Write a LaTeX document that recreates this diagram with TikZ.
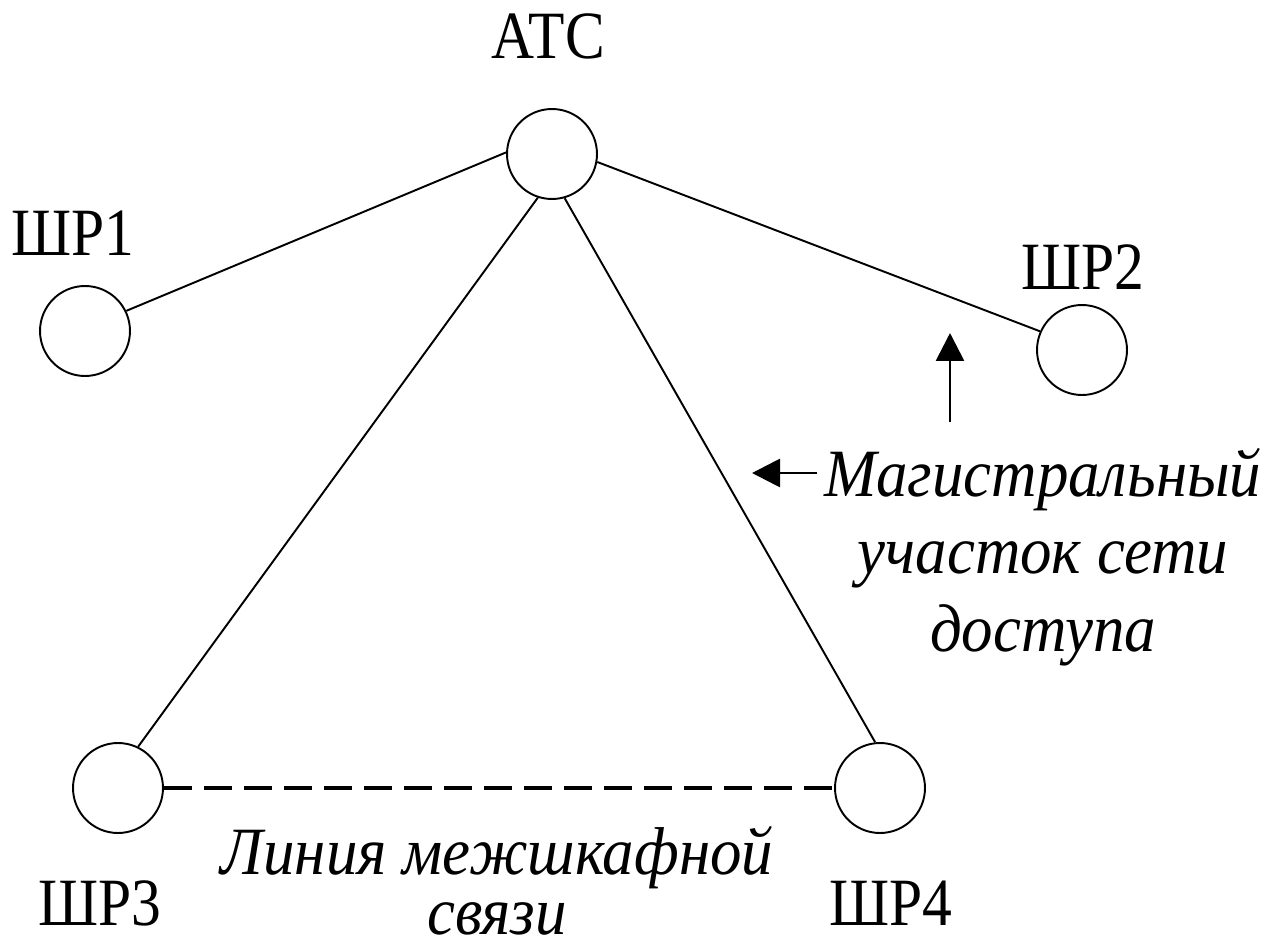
\documentclass[tikz,border=0pt]{standalone}
\usepackage{fontspec}
\setmainfont{Liberation Serif}[UprightFeatures={FakeStretch=0.88},ItalicFeatures={FakeStretch=0.93}]
\usetikzlibrary{arrows.meta}
\begin{document}
\begin{tikzpicture}[x=0.02cm,y=-0.02cm,
    uzel/.style={draw,circle,line width=1.1pt,minimum size=1.8cm,inner sep=0pt},
    svyaz/.style={line width=1.1pt},
    metka/.style={font=\fontsize{38.5}{44}\selectfont,inner sep=0pt,anchor=base},
    poyasn/.style={font=\itshape,inner sep=0pt,align=center},
    strelka/.style={line width=1.6pt,-{Triangle[length=0.56cm,width=0.56cm]}}]
  \useasboundingbox (0,0) rectangle (1272,943);
  % uzly
  \node[uzel] (atc) at (552,154) {};
  \node[uzel] (shr1) at (85,331) {};
  \node[uzel] (shr2) at (1082,350) {};
  \node[uzel] (shr3) at (118,788) {};
  \node[uzel] (shr4) at (880,788) {};
  % podpisi
  \node[metka] (atctxt) at (548,58) {АТС};
  \node[metka] (shr1txt) at (73,255) {ШР1};
  \node[metka] (shr2txt) at (1083,289) {ШР2};
  \node[metka] (shr3txt) at (100,925) {ШР3};
  \node[metka] (shr4txt) at (891,925) {ШР4};
  % linii
  \draw[svyaz] (atc.178) -- (shr1.26);
  \draw[svyaz] (atc.-10) -- (shr2.156);
  \draw[svyaz] (atc.-108) -- (shr3.64);
  \draw[svyaz] (atc.-74) -- (shr4.96);
  \draw[line width=2.8pt,dash pattern=on 0.56cm off 0.24cm] (shr3) -- (shr4);
  % poyasneniya
  \node[poyasn,font=\fontsize{38.5}{44}\selectfont\itshape] (magtxt) at (1043,557)
    {Магистральный\\участок сети\\доступа};
  \node[poyasn,font=\fontsize{38.5}{34}\selectfont\itshape] (mezhtxt) at (497,881)
    {Линия межшкафной\\связи};
  \coordinate (vtail) at (950,422);
  \coordinate (vtip) at (950,333);
  \coordinate (htail) at (817,473);
  \coordinate (htip) at (752,473);
  \draw[strelka] (vtail) -- (vtip);
  \draw[strelka] (htail) -- (htip);
\end{tikzpicture}
\end{document}
